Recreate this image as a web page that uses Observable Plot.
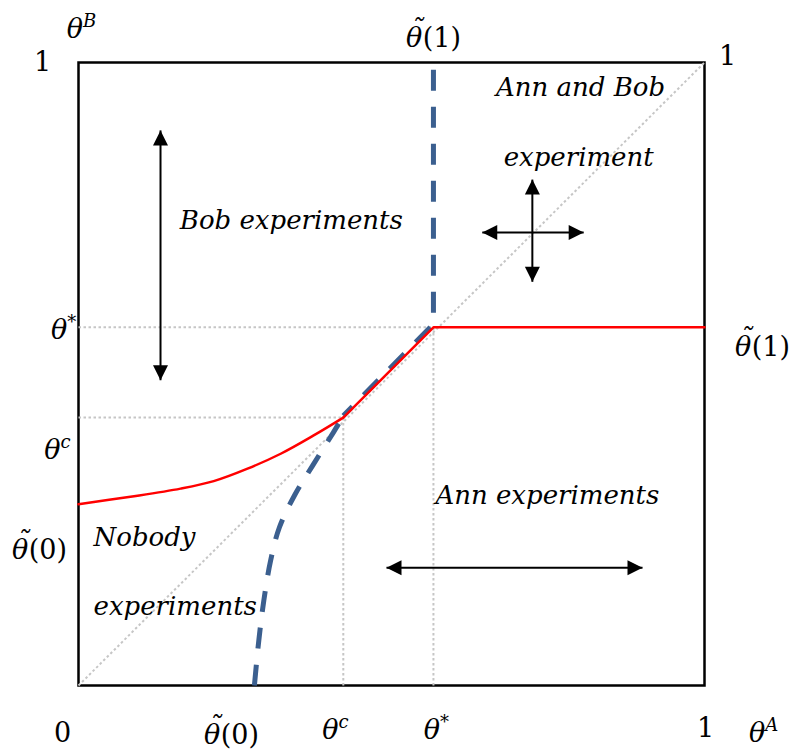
<!DOCTYPE html>
<html>
<head>
<meta charset="utf-8">
<script src="https://cdn.jsdelivr.net/npm/d3@7"></script>
<script src="https://cdn.jsdelivr.net/npm/@observablehq/plot@0.6"></script>
<style>
  html, body { margin: 0; padding: 0; background: #ffffff; }
</style>
</head>
<body>
<div id="chart"></div>
<script>
// ---- key thresholds (unit square) ----
const thetaStarA = 0.567;   // θ* on Ann's axis
const thetaStarB = 0.575;   // θ* on Bob's axis (= θ̃(1) plateau)
const thetaCA = 0.423;      // θ^c on Ann's axis
const thetaCB = 0.430;      // θ^c on Bob's axis
const thetaTilde0A = 0.281; // θ̃(0) on Ann's axis
const thetaTilde0B = 0.291; // θ̃(0) on Bob's axis

// red boundary: curved part (up to θ^c), then straight part
const redCurveX = [0, 0.083, 0.163, 0.216, 0.270, 0.323, 0.375, 0.423];
const redCurveY = [0.291, 0.303, 0.316, 0.328, 0.348, 0.372, 0.401, 0.430];
const redKinkX = [0.423, 0.567, 1.0];
const redKinkY = [0.430, 0.575, 0.575];

// blue dashed boundary: curved part, then straight/vertical part
const blueCurveX = [0.281, 0.288, 0.296, 0.307, 0.321, 0.345, 0.374, 0.407, 0.423];
const blueCurveY = [0.000, 0.072, 0.136, 0.201, 0.254, 0.305, 0.353, 0.406, 0.433];
const blueKinkX = [0.423, 0.567, 0.567];
const blueKinkY = [0.433, 0.580, 1.000];

// region annotations
const regionText = ["Ann and Bob", "experiment", "Bob experiments", "Ann experiments"];
const regionX = [0.802, 0.799, 0.340, 0.749];
const regionY = [0.960, 0.848, 0.746, 0.305];
const nobodyText = ["Nobody", "experiments"];
const nobodyX = [0.024, 0.024];
const nobodyY = [0.238, 0.127];

// double-headed arrows
const vArrowX = [0.131, 0.725];
const vArrowTop = [0.891, 0.812];
const vArrowBottom = [0.490, 0.648];
const hArrowY = [0.727, 0.189];
const hArrowLeft = [0.645, 0.492];
const hArrowRight = [0.807, 0.901];

// tick labels
const xTickLabels = ["0", "θ̃(0)", "θ^c", "θ^*", "1", "θ^A"];
const xTickValues = [0, thetaTilde0A, thetaCA, thetaStarA, 1, 1];
const yTickLabels = ["1", "θ^*", "θ^c", "θ̃(0)", "θ^B"];
const yTickValues = [1, thetaStarB, thetaCB, thetaTilde0B, 1];

// ---- build tables ----
const zip = (xs, ys) => xs.map((x, i) => ({x, y: ys[i]}));
const redCurve = zip(redCurveX, redCurveY);
const redKink = zip(redKinkX, redKinkY);
const blueCurve = zip(blueCurveX, blueCurveY);
const blueKink = zip(blueKinkX, blueKinkY);
const regions = regionText.map((t, i) => ({t, x: regionX[i], y: regionY[i]}));
const nobody = nobodyText.map((t, i) => ({t, x: nobodyX[i], y: nobodyY[i]}));
const vArrows = vArrowX.map((x, i) => ({x, y1: vArrowTop[i], y2: vArrowBottom[i]}));
const hArrows = hArrowY.map((y, i) => ({y, x1: hArrowLeft[i], x2: hArrowRight[i]}));

const guides = [
  {x1: 0, y1: 0, x2: 1, y2: 1},
  {x1: 0, y1: thetaStarB, x2: thetaStarA, y2: thetaStarB},
  {x1: 0, y1: thetaCB, x2: thetaCA, y2: thetaCB},
  {x1: thetaCA, y1: 0, x2: thetaCA, y2: thetaCB},
  {x1: thetaStarA, y1: 0, x2: thetaStarA, y2: thetaStarB}
];

const L = 15, H = 7.5;
const headUp = {draw(c) { c.moveTo(0, 0); c.lineTo(-H, L); c.lineTo(H, L); c.closePath(); }};
const headDown = {draw(c) { c.moveTo(0, 0); c.lineTo(-H, -L); c.lineTo(H, -L); c.closePath(); }};
const headLeft = {draw(c) { c.moveTo(0, 0); c.lineTo(L, -H); c.lineTo(L, H); c.closePath(); }};
const headRight = {draw(c) { c.moveTo(0, 0); c.lineTo(-L, -H); c.lineTo(-L, H); c.closePath(); }};

const serif = "DejaVu Serif";
const FS = 27;
const xDx = [-16, -23, -8, 3, 1, 59];
const xDy = [48, 50, 45, 45, 43, 48];
const yDx = [-36, -15, -21, -39, 3];
const yDy = [0, 3, 33, 46, -33];

const tickMarks = [];
xTickLabels.forEach((t, i) => {
  tickMarks.push(Plot.text([{t, v: xTickValues[i]}], {
    x: "v", y: () => 0, text: "t", dx: xDx[i], dy: xDy[i],
    fontFamily: serif, fontSize: FS, fill: "black", textAnchor: "middle", lineAnchor: "middle"
  }));
});
yTickLabels.forEach((t, i) => {
  tickMarks.push(Plot.text([{t, v: yTickValues[i]}], {
    x: () => 0, y: "v", text: "t", dx: yDx[i], dy: yDy[i],
    fontFamily: serif, fontSize: FS, fill: "black", textAnchor: "middle", lineAnchor: "middle"
  }));
});
tickMarks.push(Plot.text([{t: "θ̃(1)", x: thetaStarA, y: 1}], {
  x: "x", y: "y", text: "t", dy: -24, fontFamily: serif, fontSize: FS, fill: "black",
  textAnchor: "middle", lineAnchor: "middle"
}));
tickMarks.push(Plot.text([{t: "1", x: 1, y: 1}], {
  x: "x", y: "y", text: "t", dx: 23, dy: -6, fontFamily: serif, fontSize: FS, fill: "black",
  textAnchor: "middle", lineAnchor: "middle"
}));
tickMarks.push(Plot.text([{t: "θ̃(1)", x: 1, y: thetaStarB}], {
  x: "x", y: "y", text: "t", dx: 58, dy: 20, fontFamily: serif, fontSize: FS, fill: "black",
  textAnchor: "middle", lineAnchor: "middle"
}));

const chart = Plot.plot({
  width: 794,
  height: 749,
  marginLeft: 78,
  marginRight: 90,
  marginTop: 62,
  marginBottom: 64,
  x: {domain: [0, 1], axis: null},
  y: {domain: [0, 1], axis: null},
  style: {background: "white", overflow: "visible"},
  marks: [
    Plot.frame({stroke: "black", strokeWidth: 2.5}),
    Plot.link(guides, {x1: "x1", y1: "y1", x2: "x2", y2: "y2",
      stroke: "#c6c6c6", strokeWidth: 2, strokeDasharray: "2.5 2.5"}),
    Plot.line(blueCurve, {x: "x", y: "y", curve: "catmull-rom", stroke: "#3b5f8f", strokeWidth: 5,
      strokeDasharray: "21 16", strokeLinecap: "butt"}),
    Plot.line(blueKink, {x: "x", y: "y", stroke: "#3b5f8f", strokeWidth: 5,
      strokeDasharray: "21 16", strokeDashoffset: 8, strokeLinecap: "butt", strokeLinejoin: "miter"}),
    Plot.line(redCurve, {x: "x", y: "y", curve: "catmull-rom", stroke: "#ff0000", strokeWidth: 2.5}),
    Plot.line(redKink, {x: "x", y: "y", stroke: "#ff0000", strokeWidth: 2.5}),
    // arrows
    Plot.link(vArrows, {x1: "x", x2: "x", y1: "y1", y2: "y2", stroke: "black", strokeWidth: 2}),
    Plot.link(hArrows, {x1: "x1", x2: "x2", y1: "y", y2: "y", stroke: "black", strokeWidth: 2}),
    Plot.dot(vArrows, {x: "x", y: "y1", symbol: headUp, fill: "black", stroke: null, r: 5}),
    Plot.dot(vArrows, {x: "x", y: "y2", symbol: headDown, fill: "black", stroke: null, r: 5}),
    Plot.dot(hArrows, {x: "x1", y: "y", symbol: headLeft, fill: "black", stroke: null, r: 5}),
    Plot.dot(hArrows, {x: "x2", y: "y", symbol: headRight, fill: "black", stroke: null, r: 5}),
    // region labels
    Plot.text(regions, {x: "x", y: "y", text: "t", fontFamily: serif, fontStyle: "italic",
      fontSize: 26, fill: "black", textAnchor: "middle", lineAnchor: "middle"}),
    Plot.text(nobody, {x: "x", y: "y", text: "t", fontFamily: serif, fontStyle: "italic",
      fontSize: 26, fill: "black", textAnchor: "start", lineAnchor: "middle"}),
    ...tickMarks
  ]
});

// format math labels: italic θ (with tilde accent), superscripts, upright parentheses
const NS = "http://www.w3.org/2000/svg";
function tspan(parent, text, attrs) {
  const t = document.createElementNS(NS, "tspan");
  for (const k in attrs) t.setAttribute(k, attrs[k]);
  t.textContent = text;
  parent.appendChild(t);
  return t;
}
chart.querySelectorAll("text").forEach(el => {
  const s = el.textContent;
  if (!s.includes("θ")) return;
  const m = s.match(/^θ(\u0303?)(?:\^(.))?(.*)$/);
  if (!m) return;
  el.textContent = "";
  tspan(el, "θ", {"font-style": "italic"});
  let raised = 0;
  if (m[1]) {
    tspan(el, "\u02DC", {"font-style": "italic", dx: -12, dy: -8});
    raised = 8;
  }
  if (m[2]) {
    const attrs = {"font-size": 18, dy: -11};
    if (m[2] !== "*") attrs["font-style"] = "italic";
    tspan(el, m[2], attrs);
  }
  if (m[3]) {
    tspan(el, m[3], {dy: raised, dx: -1});
  }
});

document.getElementById("chart").appendChild(chart);
</script>
</body>
</html>
